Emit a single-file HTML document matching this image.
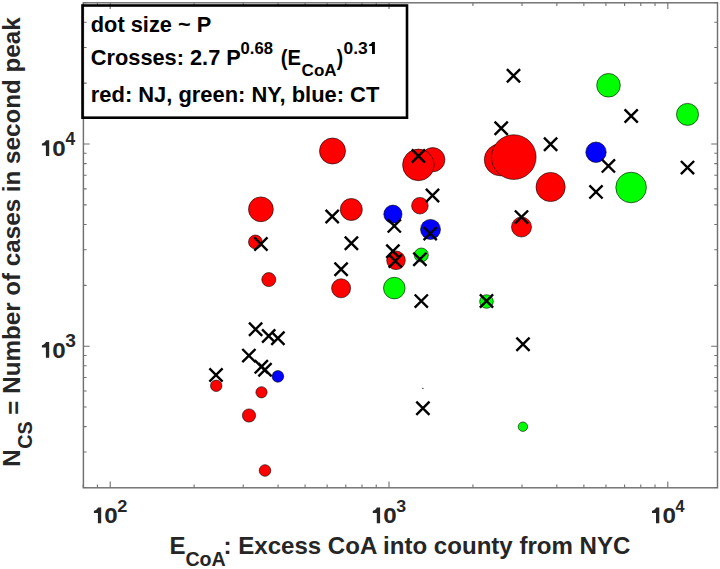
<!DOCTYPE html><html><head><meta charset="utf-8"><style>html,body{margin:0;padding:0;background:#fff;overflow:hidden}svg{display:block}</style></head><body><svg width="720" height="569" viewBox="0 0 720 569">
<rect width="720" height="569" fill="#fff"/>
<path d="M83.18 487.8v-3.2M83.18 2.8v3.2M97.44 487.8v-3.2M97.44 2.8v3.2M110.20 487.8v-6.3M110.20 2.8v6.3M194.13 487.8v-3.2M194.13 2.8v3.2M243.22 487.8v-3.2M243.22 2.8v3.2M278.05 487.8v-3.2M278.05 2.8v3.2M305.07 487.8v-3.2M305.07 2.8v3.2M327.15 487.8v-3.2M327.15 2.8v3.2M345.81 487.8v-3.2M345.81 2.8v3.2M361.98 487.8v-3.2M361.98 2.8v3.2M376.24 487.8v-3.2M376.24 2.8v3.2M389.00 487.8v-6.3M389.00 2.8v6.3M472.93 487.8v-3.2M472.93 2.8v3.2M522.02 487.8v-3.2M522.02 2.8v3.2M556.85 487.8v-3.2M556.85 2.8v3.2M583.87 487.8v-3.2M583.87 2.8v3.2M605.95 487.8v-3.2M605.95 2.8v3.2M624.61 487.8v-3.2M624.61 2.8v3.2M640.78 487.8v-3.2M640.78 2.8v3.2M655.04 487.8v-3.2M655.04 2.8v3.2M667.80 487.8v-6.3M667.80 2.8v6.3M83.4 487.53h3.2M717.5 487.53h-3.2M83.4 451.93h3.2M717.5 451.93h-3.2M83.4 426.66h3.2M717.5 426.66h-3.2M83.4 407.07h3.2M717.5 407.07h-3.2M83.4 391.06h3.2M717.5 391.06h-3.2M83.4 377.52h3.2M717.5 377.52h-3.2M83.4 365.80h3.2M717.5 365.80h-3.2M83.4 355.45h3.2M717.5 355.45h-3.2M83.4 346.20h6.3M717.5 346.20h-6.3M83.4 285.33h3.2M717.5 285.33h-3.2M83.4 249.73h3.2M717.5 249.73h-3.2M83.4 224.46h3.2M717.5 224.46h-3.2M83.4 204.87h3.2M717.5 204.87h-3.2M83.4 188.86h3.2M717.5 188.86h-3.2M83.4 175.32h3.2M717.5 175.32h-3.2M83.4 163.60h3.2M717.5 163.60h-3.2M83.4 153.25h3.2M717.5 153.25h-3.2M83.4 144.00h6.3M717.5 144.00h-6.3M83.4 83.13h3.2M717.5 83.13h-3.2M83.4 47.53h3.2M717.5 47.53h-3.2M83.4 22.26h3.2M717.5 22.26h-3.2M83.4 2.67h3.2M717.5 2.67h-3.2" stroke="#707070" stroke-width="1.1" fill="none"/>
<rect x="83.4" y="2.8" width="634.10" height="485.00" fill="none" stroke="#707070" stroke-width="1.45"/>
<circle cx="216.2" cy="385.8" r="5.7" fill="#f00" stroke="#000" stroke-width="0.6"/>
<circle cx="261.5" cy="392.3" r="5.6" fill="#f00" stroke="#000" stroke-width="0.6"/>
<circle cx="249.0" cy="415.5" r="6.6" fill="#f00" stroke="#000" stroke-width="0.6"/>
<circle cx="265.0" cy="470.5" r="5.8" fill="#f00" stroke="#000" stroke-width="0.6"/>
<circle cx="260.9" cy="209.3" r="12.4" fill="#f00" stroke="#000" stroke-width="0.6"/>
<circle cx="255.4" cy="241.9" r="6.9" fill="#f00" stroke="#000" stroke-width="0.6"/>
<circle cx="268.8" cy="279.6" r="7.0" fill="#f00" stroke="#000" stroke-width="0.6"/>
<circle cx="332.5" cy="151.0" r="13.0" fill="#f00" stroke="#000" stroke-width="0.6"/>
<circle cx="351.3" cy="209.5" r="11.0" fill="#f00" stroke="#000" stroke-width="0.6"/>
<circle cx="341.1" cy="288.3" r="9.5" fill="#f00" stroke="#000" stroke-width="0.6"/>
<circle cx="432.8" cy="159.7" r="12.1" fill="#f00" stroke="#000" stroke-width="0.6"/>
<circle cx="418.4" cy="164.9" r="15.8" fill="#f00" stroke="#000" stroke-width="0.6"/>
<circle cx="419.9" cy="205.7" r="8.3" fill="#f00" stroke="#000" stroke-width="0.6"/>
<circle cx="396.0" cy="260.3" r="9.3" fill="#f00" stroke="#000" stroke-width="0.6"/>
<circle cx="500.3" cy="159.8" r="16.0" fill="#f00" stroke="#000" stroke-width="0.6"/>
<circle cx="513.8" cy="157.1" r="22.3" fill="#f00" stroke="#000" stroke-width="0.6"/>
<circle cx="550.6" cy="187.0" r="14.6" fill="#f00" stroke="#000" stroke-width="0.6"/>
<circle cx="521.5" cy="227.0" r="10.0" fill="#f00" stroke="#000" stroke-width="0.6"/>
<circle cx="421.3" cy="255.0" r="7.0" fill="#0f0" stroke="#000" stroke-width="0.6"/>
<circle cx="394.3" cy="288.1" r="10.8" fill="#0f0" stroke="#000" stroke-width="0.6"/>
<circle cx="486.5" cy="301.5" r="6.8" fill="#0f0" stroke="#000" stroke-width="0.6"/>
<circle cx="522.9" cy="426.7" r="4.7" fill="#0f0" stroke="#000" stroke-width="0.6"/>
<circle cx="608.5" cy="85.3" r="11.8" fill="#0f0" stroke="#000" stroke-width="0.6"/>
<circle cx="631.1" cy="187.5" r="15.3" fill="#0f0" stroke="#000" stroke-width="0.6"/>
<circle cx="687.5" cy="114.4" r="11.0" fill="#0f0" stroke="#000" stroke-width="0.6"/>
<circle cx="277.9" cy="376.4" r="5.8" fill="#00f" stroke="#000" stroke-width="0.6"/>
<circle cx="392.9" cy="214.2" r="9.1" fill="#00f" stroke="#000" stroke-width="0.6"/>
<circle cx="430.5" cy="229.4" r="10.0" fill="#00f" stroke="#000" stroke-width="0.6"/>
<circle cx="596.0" cy="152.2" r="10.2" fill="#00f" stroke="#000" stroke-width="0.6"/>
<circle cx="422.9" cy="388.4" r="0.7" fill="#333"/>
<path d="M209.4 368.4L222.6 381.6M209.4 381.6L222.6 368.4M249.0 322.7L262.2 335.9M249.0 335.9L262.2 322.7M262.1 329.4L275.3 342.6M262.1 342.6L275.3 329.4M271.3 331.7L284.5 344.9M271.3 344.9L284.5 331.7M242.3 349.0L255.5 362.2M242.3 362.2L255.5 349.0M254.7 360.2L267.9 373.4M254.7 373.4L267.9 360.2M258.4 363.2L271.6 376.4M258.4 376.4L271.6 363.2M254.3 237.4L267.5 250.6M254.3 250.6L267.5 237.4M325.6 209.9L338.8 223.1M325.6 223.1L338.8 209.9M344.8 236.6L358.0 249.8M344.8 249.8L358.0 236.6M334.5 262.7L347.7 275.9M334.5 275.9L347.7 262.7M411.8 149.4L425.0 162.6M411.8 162.6L425.0 149.4M425.9 188.9L439.1 202.1M425.9 202.1L439.1 188.9M387.7 219.3L400.9 232.5M387.7 232.5L400.9 219.3M423.6 227.0L436.8 240.2M423.6 240.2L436.8 227.0M386.3 244.6L399.5 257.8M386.3 257.8L399.5 244.6M388.7 254.4L401.9 267.6M388.7 267.6L401.9 254.4M413.3 252.6L426.5 265.8M413.3 265.8L426.5 252.6M414.7 294.5L427.9 307.7M414.7 307.7L427.9 294.5M479.9 294.4L493.1 307.6M479.9 307.6L493.1 294.4M516.4 337.6L529.6 350.8M516.4 350.8L529.6 337.6M416.3 401.6L429.5 414.8M416.3 414.8L429.5 401.6M494.6 121.7L507.8 134.9M494.6 134.9L507.8 121.7M506.9 69.1L520.1 82.3M506.9 82.3L520.1 69.1M544.0 137.7L557.2 150.9M544.0 150.9L557.2 137.7M514.9 210.5L528.1 223.7M514.9 223.7L528.1 210.5M624.6 109.4L637.8 122.6M624.6 122.6L637.8 109.4M601.8 159.3L615.0 172.5M601.8 172.5L615.0 159.3M589.4 185.3L602.6 198.5M589.4 198.5L602.6 185.3M680.9 161.0L694.1 174.2M680.9 174.2L694.1 161.0" stroke="#000" stroke-width="2.4" fill="none"/>
<rect x="82.5" y="5.5" width="324.5" height="112.2" fill="none" stroke="#000" stroke-width="2.6"/>
<text x="90.8" y="31.5" font-size="21.9" fill="#000" font-family="Liberation Sans, sans-serif" font-weight="bold" textLength="120.5" lengthAdjust="spacingAndGlyphs">dot size ~ P</text>
<text x="90.8" y="64.7" font-size="21.9" fill="#000" font-family="Liberation Sans, sans-serif" font-weight="bold" textLength="150" lengthAdjust="spacingAndGlyphs">Crosses: 2.7 P</text>
<text x="240.6" y="54.0" font-size="17.2" fill="#000" font-family="Liberation Sans, sans-serif" font-weight="bold" textLength="32.3" lengthAdjust="spacingAndGlyphs">0.68</text>
<text x="280.8" y="64.7" font-size="21.9" fill="#000" font-family="Liberation Sans, sans-serif" font-weight="bold" textLength="20.2" lengthAdjust="spacingAndGlyphs">(E</text>
<text x="301.6" y="75.5" font-size="17.2" fill="#000" font-family="Liberation Sans, sans-serif" font-weight="bold" textLength="35" lengthAdjust="spacingAndGlyphs">CoA</text>
<text x="336.8" y="64.7" font-size="21.9" fill="#000" font-family="Liberation Sans, sans-serif" font-weight="bold" textLength="6.4" lengthAdjust="spacingAndGlyphs">)</text>
<text x="343.6" y="54.0" font-size="17.2" fill="#000" font-family="Liberation Sans, sans-serif" font-weight="bold" textLength="24.2" lengthAdjust="spacingAndGlyphs">0.3</text>
<path d="M372.00 54.00H374.90V42.00H372.10C371.50 43.60 370.20 44.46 369.00 44.46V46.08H372.00Z" fill="#000"/>
<text x="90.8" y="102.1" font-size="21.9" fill="#000" font-family="Liberation Sans, sans-serif" font-weight="bold" textLength="288.5" lengthAdjust="spacingAndGlyphs">red: NJ, green: NY, blue: CT</text>
<path d="M97.90 523.30H101.20V507.60H98.00C97.40 509.20 95.10 510.82 93.90 510.82V512.94H97.90Z" fill="#262626"/>
<text x="0" y="0" font-size="22.3" fill="#262626" font-family="Liberation Sans, sans-serif" font-weight="bold" transform="translate(104.33,523.30) scale(1.084,1)">0</text>
<text x="0" y="0" font-size="16.57" fill="#262626" font-family="Liberation Sans, sans-serif" font-weight="bold" transform="translate(117.26,512.20) scale(1.096,1)">2</text>
<path d="M376.80 523.30H380.10V507.60H376.90C376.30 509.20 374.00 510.82 372.80 510.82V512.94H376.80Z" fill="#262626"/>
<text x="0" y="0" font-size="22.3" fill="#262626" font-family="Liberation Sans, sans-serif" font-weight="bold" transform="translate(383.23,523.30) scale(1.084,1)">0</text>
<text x="0" y="0" font-size="17.00" fill="#262626" font-family="Liberation Sans, sans-serif" font-weight="bold" transform="translate(396.34,512.20) scale(1.047,1)">3</text>
<path d="M656.00 523.30H659.30V507.60H656.10C655.50 509.20 653.20 510.82 652.00 510.82V512.94H656.00Z" fill="#262626"/>
<text x="0" y="0" font-size="22.3" fill="#262626" font-family="Liberation Sans, sans-serif" font-weight="bold" transform="translate(662.43,523.30) scale(1.084,1)">0</text>
<text x="0" y="0" font-size="16.57" fill="#262626" font-family="Liberation Sans, sans-serif" font-weight="bold" transform="translate(675.44,512.20) scale(0.983,1)">4</text>
<path d="M45.90 155.90H49.20V140.20H46.00C45.40 141.80 43.10 143.42 41.90 143.42V145.54H45.90Z" fill="#262626"/>
<text x="0" y="0" font-size="22.3" fill="#262626" font-family="Liberation Sans, sans-serif" font-weight="bold" transform="translate(52.33,155.90) scale(1.084,1)">0</text>
<text x="0" y="0" font-size="17.57" fill="#262626" font-family="Liberation Sans, sans-serif" font-weight="bold" transform="translate(65.43,145.00) scale(0.991,1)">4</text>
<path d="M45.90 357.80H49.20V342.10H46.00C45.40 343.70 43.10 345.32 41.90 345.32V347.44H45.90Z" fill="#262626"/>
<text x="0" y="0" font-size="22.3" fill="#262626" font-family="Liberation Sans, sans-serif" font-weight="bold" transform="translate(52.33,357.80) scale(1.084,1)">0</text>
<text x="0" y="0" font-size="18.14" fill="#262626" font-family="Liberation Sans, sans-serif" font-weight="bold" transform="translate(65.22,346.80) scale(1.058,1)">3</text>
<text x="169.4" y="553.8" font-size="24" fill="#262626" font-family="Liberation Sans, sans-serif" font-weight="bold">E</text>
<text x="185.4" y="565.8" font-size="20" fill="#262626" font-family="Liberation Sans, sans-serif" font-weight="bold" textLength="40.4" lengthAdjust="spacingAndGlyphs">CoA</text>
<text x="223.5" y="553.8" font-size="24" fill="#262626" font-family="Liberation Sans, sans-serif" font-weight="bold" textLength="406.9" lengthAdjust="spacingAndGlyphs">: Excess CoA into county from NYC</text>
<g transform="translate(20.0,466.8) rotate(-90)">
<text x="0" y="0" font-size="24" fill="#262626" font-family="Liberation Sans, sans-serif" font-weight="bold">N</text>
<text x="18.1" y="12.2" font-size="20" fill="#262626" font-family="Liberation Sans, sans-serif" font-weight="bold" textLength="27.4" lengthAdjust="spacingAndGlyphs">CS</text>
<text x="52" y="1.6" font-size="24" fill="#262626" font-family="Liberation Sans, sans-serif" font-weight="bold">=</text>
<text x="73.0" y="0" font-size="24" fill="#262626" font-family="Liberation Sans, sans-serif" font-weight="bold" textLength="376.4" lengthAdjust="spacingAndGlyphs">Number of cases in second peak</text>
</g>
</svg></body></html>
